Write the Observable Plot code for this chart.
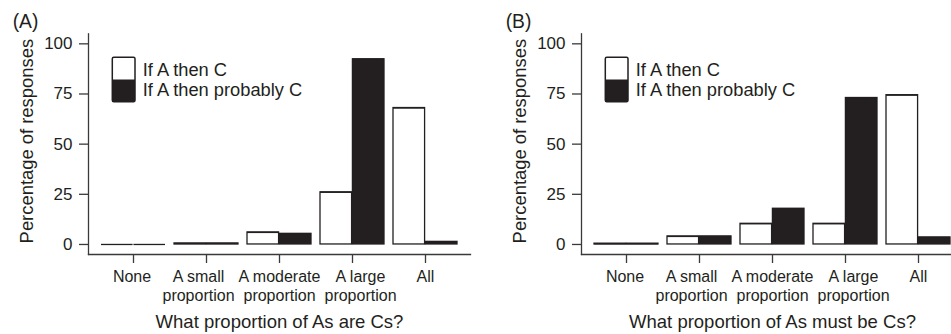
<!DOCTYPE html>
<html>
<head>
<meta charset="utf-8">
<script src="https://cdn.jsdelivr.net/npm/d3@7"></script>
<script src="https://cdn.jsdelivr.net/npm/@observablehq/plot@0.6"></script>
<style>
  html, body { margin: 0; padding: 0; background: #fff; }
  #fig { position: relative; width: 951px; height: 334px; overflow: hidden; background: #fff; }
  #fig > svg { position: absolute; top: 0; }
</style>
</head>
<body>
<div id="fig"></div>
<script>
// ---- data ----
const categories = ["None", "A small\nproportion", "A moderate\nproportion", "A large\nproportion", "All"];
const seriesNames = ["If A then C", "If A then probably C"];
const panelLabels = ["(A)", "(B)"];
const xTitles = ["What proportion of As are Cs?", "What proportion of As must be Cs?"];
const yTitle = "Percentage of responses";
const yTicks = [0, 25, 50, 75, 100];
const panelA_thenC = [0, 0.5, 6, 26, 68];
const panelA_probablyC = [0, 0.5, 5.3, 92.3, 1.3];
const panelB_thenC = [0.4, 4, 10.3, 10.3, 74.4];
const panelB_probablyC = [0.4, 4, 17.8, 73, 3.5];

// ---- style ----
const ink = "#231f20";
const axisCol = "#3a3a3a";
const W = 493, H = 334, mL = 88, mR = 23, mT = 33.3, mB = 80;
const FONT = "'Liberation Sans', Arial, Helvetica, sans-serif";
const xOpts = {domain: categories, paddingInner: 0.117, paddingOuter: 0.16};
// horizontal nudges of the tick labels (R spread them apart to avoid overlap)
const labelNudges = [-1.5, -8, 0, 8, 0];

function panel(thenC, probC, xTitle, label) {
  const data = categories.map((c, i) => ({cat: c, a: thenC[i], b: probC[i]}));
  const bw = Plot.scale({x: {type: "band", ...xOpts, range: [mL, W - mR]}}).bandwidth;
  const half = bw / 2;
  const labelAxes = categories.map((c, i) =>
    Plot.axisX([c], {tickSize: 0, tickPadding: 14.6, fontSize: 16, label: null, lineHeight: 1.15,
                     dx: labelNudges[i], stroke: "none", fill: ink}));
  const svg = Plot.plot({
    width: W, height: H,
    marginLeft: mL, marginRight: mR, marginTop: mT, marginBottom: mB,
    style: {fontFamily: FONT, fontSize: "16px", color: ink, background: "white", overflow: "visible"},
    x: {type: "band", ...xOpts},
    y: {domain: [-5, 105]},
    marks: [
      Plot.barY(data, {x: "cat", y: "a", fill: "white", stroke: ink, strokeWidth: 1.3, insetRight: half}),
      Plot.barY(data, {x: "cat", y: "b", fill: ink, stroke: ink, strokeWidth: 1.3, insetLeft: half}),
      Plot.tickY(data, {x: "cat", y: "a", stroke: ink, strokeWidth: 1.3, insetRight: half}),
      Plot.tickY(data, {x: "cat", y: "b", stroke: ink, strokeWidth: 1.3, insetLeft: half}),
      Plot.frame({anchor: "left", stroke: axisCol, strokeWidth: 1.3}),
      Plot.frame({anchor: "bottom", stroke: axisCol, strokeWidth: 1.3}),
      Plot.axisY(yTicks, {tickSize: 9, tickPadding: 7, fontSize: 17, label: null, stroke: axisCol, strokeWidth: 1.3}),
      Plot.axisX({tickSize: 9, tickFormat: () => "", label: null, stroke: axisCol, strokeWidth: 1.3}),
      ...labelAxes,
      Plot.text([yTitle], {frameAnchor: "left", rotate: -90, dx: -61, dy: -3, fontSize: 18.4,
                           textAnchor: "middle", lineAnchor: "middle", fill: ink}),
      Plot.text([xTitle], {frameAnchor: "bottom", dy: 68, fontSize: 18.5, textAnchor: "middle",
                           lineAnchor: "middle", fill: ink})
    ]
  });
  const s = d3.select(svg);
  // panel label
  s.append("text").attr("x", 12.7).attr("y", 28).attr("font-size", 19.3)
    .attr("text-anchor", "start").attr("fill", ink).attr("font-family", FONT).text(label);
  // legend
  const lg = s.append("g");
  lg.append("rect").attr("x", 112.3).attr("y", 57.3).attr("width", 22.7).attr("height", 22.2).attr("fill", "white");
  lg.append("rect").attr("x", 112.3).attr("y", 79.5).attr("width", 22.7).attr("height", 22.2).attr("fill", ink);
  lg.append("rect").attr("x", 112.3).attr("y", 57.3).attr("width", 22.7).attr("height", 44.4)
    .attr("fill", "none").attr("stroke", ink).attr("stroke-width", 1.5).attr("rx", 1.5);
  seriesNames.forEach((n, i) => {
    lg.append("text").attr("x", 142.7).attr("y", 76 + i * 19.7).attr("font-size", 18.3)
      .attr("text-anchor", "start").attr("fill", ink).attr("font-family", FONT).text(n);
  });
  return svg;
}

const fig = document.getElementById("fig");
const a = panel(panelA_thenC, panelA_probablyC, xTitles[0], panelLabels[0]);
a.style.left = "0px";
fig.appendChild(a);
const b = panel(panelB_thenC, panelB_probablyC, xTitles[1], panelLabels[1]);
b.style.left = "493px";
fig.appendChild(b);
</script>
</body>
</html>
